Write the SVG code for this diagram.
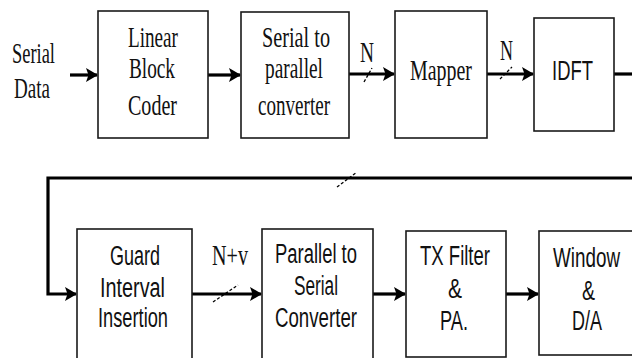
<svg xmlns="http://www.w3.org/2000/svg" width="632" height="358" viewBox="0 0 632 358">
<style>
.box{fill:#fff;stroke:#1a1a1a;stroke-width:1.6}
.ln{fill:none;stroke:#000;stroke-width:3.2}
.sl{fill:none;stroke:#000;stroke-width:1.3;stroke-dasharray:3 2}
.sf{font-family:"Liberation Serif","Times New Roman",serif;font-size:29px;fill:#111}
.ss{font-family:"Liberation Sans",Arial,sans-serif;font-size:27px;fill:#111}
</style>
<defs>
<marker id="ah" markerUnits="userSpaceOnUse" markerWidth="12" markerHeight="14" refX="11" refY="7" orient="auto">
<path d="M0,0 L12,7 L0,14 L2.5,7 Z" fill="#000"/>
</marker>
</defs>
<rect width="632" height="358" fill="#fff"/>
<g id="connectors">
<line class="ln" x1="70" y1="75" x2="97" y2="75" marker-end="url(#ah)"/>
<line class="ln" x1="208" y1="75" x2="240" y2="75" marker-end="url(#ah)"/>
<line class="ln" x1="349" y1="74" x2="394" y2="74" marker-end="url(#ah)"/>
<line class="sl" x1="364" y1="82" x2="372" y2="68"/>
<line class="ln" x1="487" y1="74" x2="533" y2="74" marker-end="url(#ah)"/>
<line class="sl" x1="500" y1="79" x2="512" y2="67"/>
<polyline class="ln" points="614,74 640,74"/>
<polyline class="ln" points="640,178 48,178 48,294 76,294" marker-end="url(#ah)"/>
<line class="sl" x1="337" y1="187" x2="357" y2="172"/>
<line class="ln" x1="192" y1="294" x2="261" y2="294" marker-end="url(#ah)"/>
<line class="sl" x1="213" y1="302" x2="238" y2="285"/>
<line class="ln" x1="373" y1="294" x2="405" y2="294" marker-end="url(#ah)"/>
<line class="ln" x1="506" y1="294" x2="538" y2="294" marker-end="url(#ah)"/>
<text class="sf" x="360" y="62" textLength="14" lengthAdjust="spacingAndGlyphs">N</text>
<text class="sf" x="500" y="60" textLength="13" lengthAdjust="spacingAndGlyphs">N</text>
<text class="sf" x="212" y="265" textLength="36" lengthAdjust="spacingAndGlyphs">N+v</text>
</g>
<g id="input">
<text class="sf" x="12" y="63" textLength="43" lengthAdjust="spacingAndGlyphs">Serial</text>
<text class="sf" x="14" y="98" textLength="36" lengthAdjust="spacingAndGlyphs">Data</text>
</g>
<g id="coder">
<rect class="box" x="98" y="11" width="110" height="127"/>
<text class="sf" x="128" y="47" textLength="50" lengthAdjust="spacingAndGlyphs">Linear</text>
<text class="sf" x="129" y="78" textLength="46" lengthAdjust="spacingAndGlyphs">Block</text>
<text class="sf" x="128" y="115" textLength="49" lengthAdjust="spacingAndGlyphs">Coder</text>
</g>
<g id="s2p">
<rect class="box" x="241" y="12" width="108" height="126"/>
<text class="sf" x="262" y="47" textLength="68" lengthAdjust="spacingAndGlyphs">Serial to</text>
<text class="sf" x="265" y="78" textLength="58" lengthAdjust="spacingAndGlyphs">parallel</text>
<text class="sf" x="258" y="115" textLength="72" lengthAdjust="spacingAndGlyphs">converter</text>
</g>
<g id="mapper">
<rect class="box" x="395" y="11" width="92" height="127"/>
<text class="sf" x="410" y="80" textLength="62" lengthAdjust="spacingAndGlyphs">Mapper</text>
</g>
<g id="idft">
<rect class="box" x="534" y="18" width="80" height="113"/>
<text class="ss" x="552" y="80" textLength="41" lengthAdjust="spacingAndGlyphs">IDFT</text>
</g>
<g id="guard">
<rect class="box" x="77" y="229" width="115" height="150"/>
<text class="ss" x="110" y="265" textLength="50" lengthAdjust="spacingAndGlyphs">Guard</text>
<text class="ss" x="100" y="297" textLength="65" lengthAdjust="spacingAndGlyphs">Interval</text>
<text class="ss" x="98" y="327" textLength="70" lengthAdjust="spacingAndGlyphs">Insertion</text>
</g>
<g id="p2s">
<rect class="box" x="262" y="229" width="111" height="150"/>
<text class="ss" x="275" y="263" textLength="82" lengthAdjust="spacingAndGlyphs">Parallel to</text>
<text class="ss" x="294" y="295" textLength="44" lengthAdjust="spacingAndGlyphs">Serial</text>
<text class="ss" x="275" y="327" textLength="82" lengthAdjust="spacingAndGlyphs">Converter</text>
</g>
<g id="txfilter">
<rect class="box" x="406" y="231" width="100" height="126"/>
<text class="ss" x="420" y="265" textLength="70" lengthAdjust="spacingAndGlyphs">TX Filter</text>
<text class="ss" x="448" y="298" textLength="14" lengthAdjust="spacingAndGlyphs">&amp;</text>
<text class="ss" x="440" y="330" textLength="28" lengthAdjust="spacingAndGlyphs">PA.</text>
</g>
<g id="window">
<rect class="box" x="539" y="231" width="110" height="124"/>
<text class="ss" x="553" y="267" textLength="67" lengthAdjust="spacingAndGlyphs">Window</text>
<text class="ss" x="582" y="300" textLength="13" lengthAdjust="spacingAndGlyphs">&amp;</text>
<text class="ss" x="572" y="330" textLength="30" lengthAdjust="spacingAndGlyphs">D/A</text>
</g>
</svg>
